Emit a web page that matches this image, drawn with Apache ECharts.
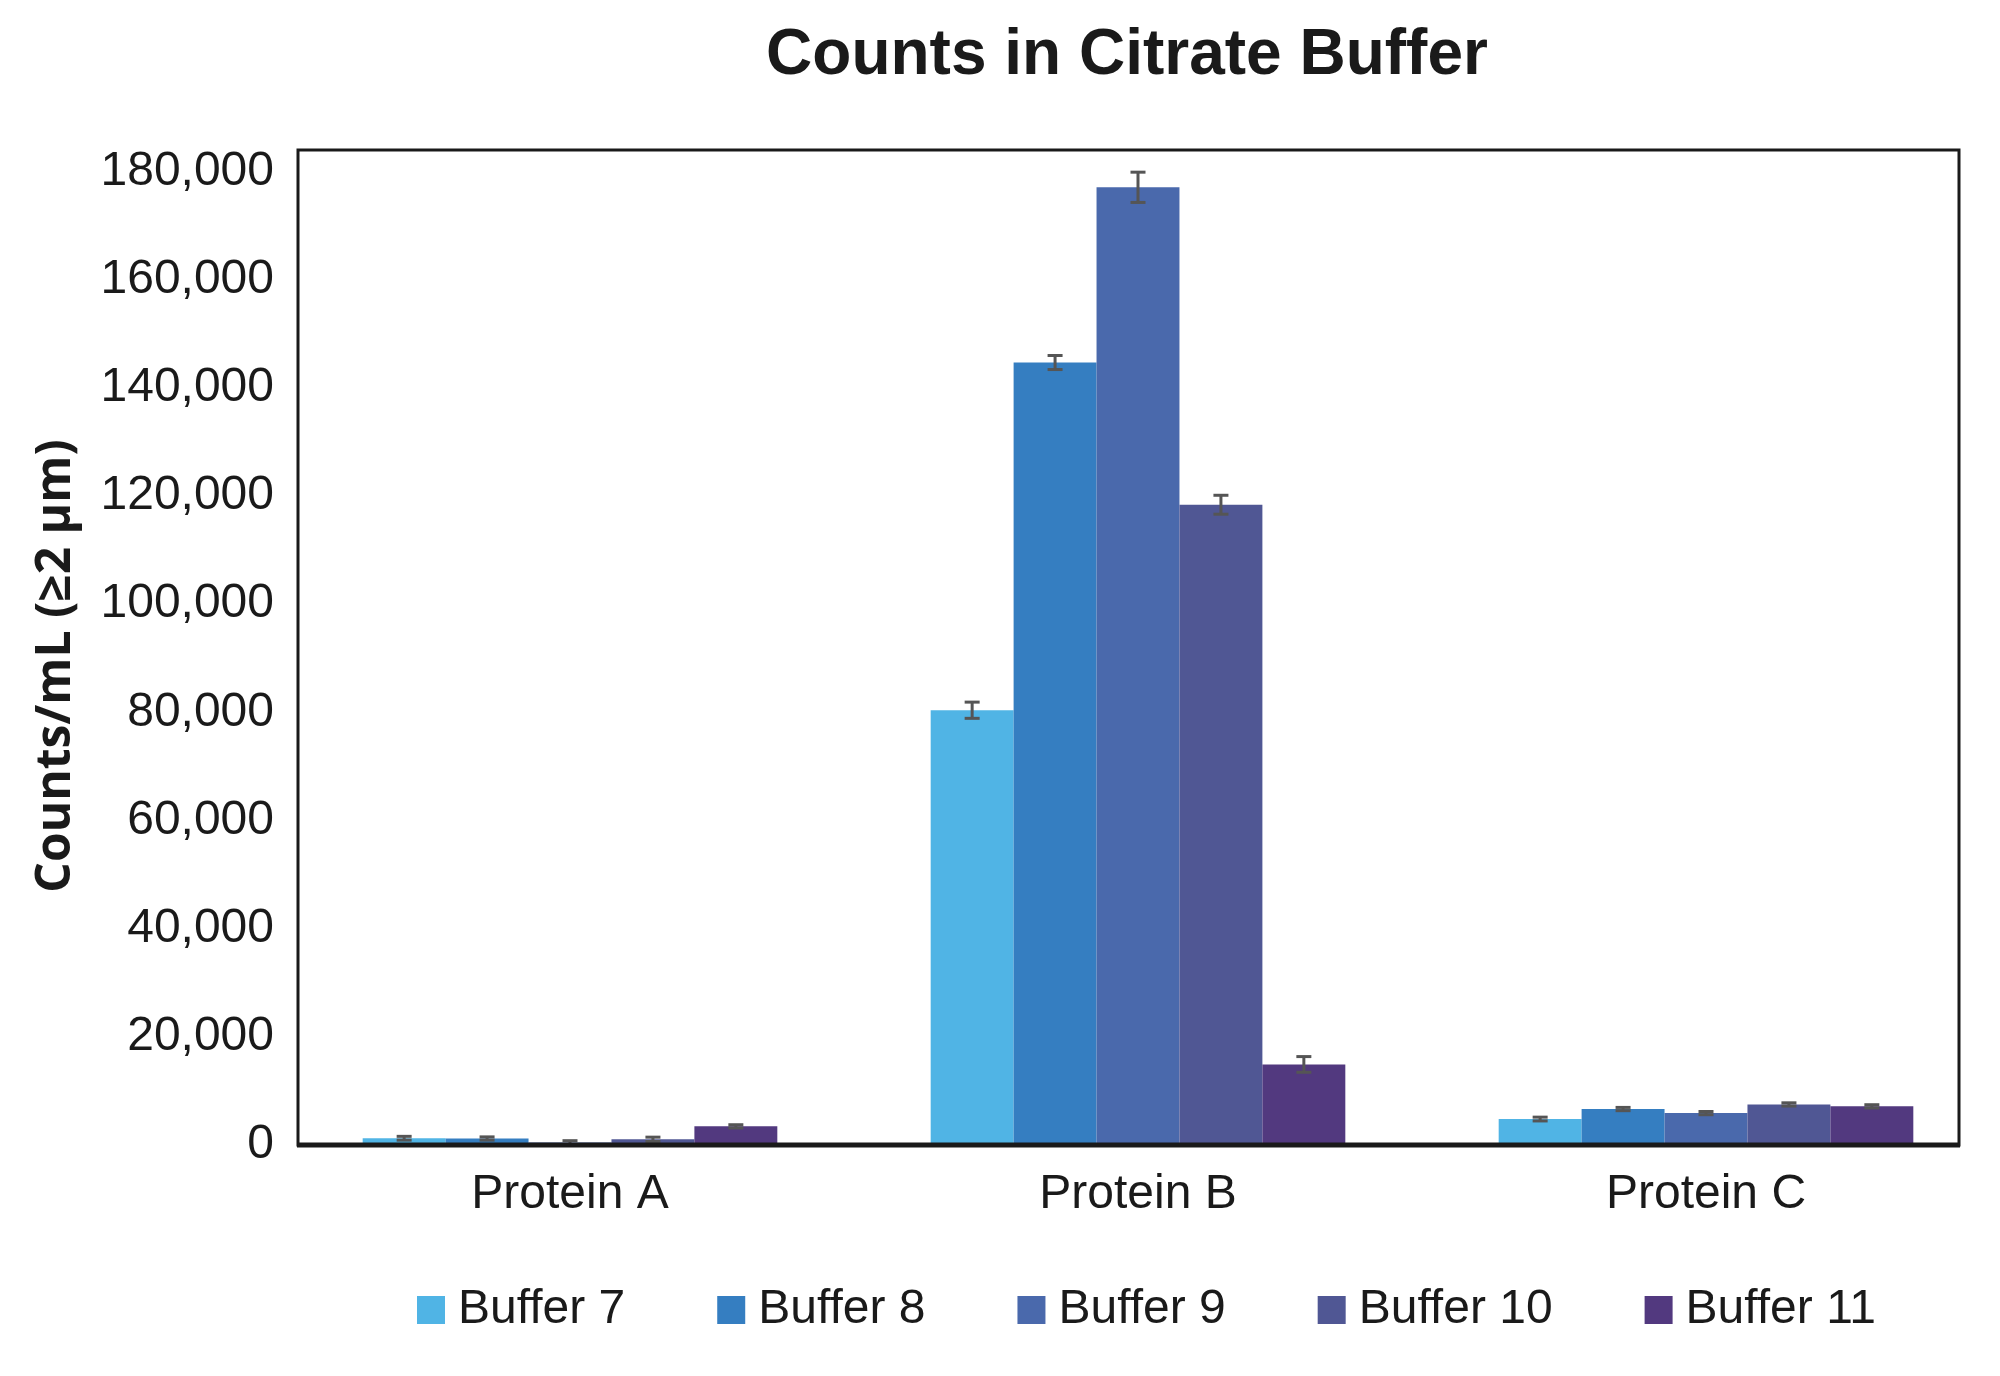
<!DOCTYPE html>
<html>
<head>
<meta charset="utf-8">
<script src="https://cdn.jsdelivr.net/npm/echarts@6/dist/echarts.min.js"></script>
<style>html,body{margin:0;padding:0;background:#fff;}#c{width:2000px;height:1376px;}</style>
</head>
<body>
<div id="c"></div>
<script>
const categories = ['Protein A', 'Protein B', 'Protein C'];
const seriesNames = ['Buffer 7', 'Buffer 8', 'Buffer 9', 'Buffer 10', 'Buffer 11'];
const buffer7 = [1250, 80400, 4800];
const buffer8 = [1200, 144700, 6650];
const buffer9 = [450, 177100, 5900];
const buffer10 = [1050, 118400, 7500];
const buffer11 = [3450, 14900, 7150];
const err7 = [350, 1500, 350];
const err8 = [300, 1300, 300];
const err9 = [350, 2800, 300];
const err10 = [400, 1750, 300];
const err11 = [300, 1450, 300];
const yTicks = [0, 20000, 40000, 60000, 80000, 100000, 120000, 140000, 160000, 180000];
const colors = ['#50B4E5', '#357EC1', '#4A69AC', '#505794', '#52397F'];

const values = [buffer7, buffer8, buffer9, buffer10, buffer11];
const errs = [err7, err8, err9, err10, err11];

const chart = echarts.init(document.getElementById('c'), null, {renderer: 'canvas'});
const font = 'Liberation Sans, Arial, sans-serif';
const gap = 0.27;

// plot frame (layout only)
const frameL = 298, frameR = 1959, frameT = 150, frameB = 1145;

const barSeries = seriesNames.map((n, i) => ({
  name: n,
  type: 'bar',
  data: values[i],
  barGap: '0%',
  barCategoryGap: (gap * 100) + '%',
  itemStyle: {color: colors[i]},
  z: 2
}));

const errData = [];
values.forEach((arr, si) => arr.forEach((v, ci) => errData.push([ci, v, errs[si][ci], si])));

const errSeries = {
  type: 'custom',
  data: errData,
  z: 10,
  silent: true,
  encode: {x: 0, y: 1},
  renderItem: function (params, api) {
    const ci = api.value(0), v = api.value(1), e = api.value(2), si = api.value(3);
    const catW = api.size([1, 0])[0];
    const bw = catW * (1 - gap) / seriesNames.length;
    const center = api.coord([ci, v]);
    const x = center[0] + (si - (seriesNames.length - 1) / 2) * bw;
    const yHi = api.coord([ci, v + e])[1];
    const yLo = api.coord([ci, v - e])[1];
    const cap = 7.5;
    const st = {stroke: '#555555', lineWidth: 3};
    return {
      type: 'group',
      children: [
        {type: 'line', shape: {x1: x, y1: yHi, x2: x, y2: yLo}, style: st},
        {type: 'line', shape: {x1: x - cap, y1: yHi, x2: x + cap, y2: yHi}, style: st},
        {type: 'line', shape: {x1: x - cap, y1: yLo, x2: x + cap, y2: yLo}, style: st}
      ]
    };
  }
};

chart.setOption({
  animation: false,
  backgroundColor: '#ffffff',
  title: {
    text: 'Counts in Citrate Buffer',
    left: 1122,
    textAlign: 'center',
    top: 19,
    textStyle: {fontFamily: font, fontWeight: 'bold', fontSize: 64, color: '#1a1a1a'}
  },
  legend: {
    data: seriesNames,
    left: 412,
    top: 1281,
    icon: 'rect',
    itemWidth: 28,
    itemHeight: 28,
    itemGap: 92,
    textStyle: {fontFamily: font, fontSize: 48, color: '#1a1a1a', padding: [0, 0, 0, 8]}
  },
  grid: {
    left: 286, right: 10, top: frameT, bottom: 1376 - frameB,
    show: false,
    containLabel: false
  },
  xAxis: {
    type: 'category',
    data: categories,
    axisTick: {show: false},
    axisLine: {show: false},
    axisLabel: {fontFamily: font, fontSize: 48, color: '#1a1a1a', margin: 26}
  },
  yAxis: {
    type: 'value',
    min: 0,
    max: 184000,
    interval: 20000,
    offset: -12,
    splitLine: {show: false},
    axisTick: {show: false},
    axisLine: {show: false},
    axisLabel: {
      fontFamily: font, fontSize: 48, color: '#1a1a1a', margin: 24,
      showMaxLabel: false,
      formatter: function (v) { return yTicks.indexOf(v) >= 0 ? v.toLocaleString('en-US') : ''; }
    }
  },
  graphic: [{
    type: 'rect',
    z: 100,
    shape: {x: frameL, y: frameT, width: frameR - frameL, height: frameB - frameT},
    style: {fill: null, stroke: '#1a1a1a', lineWidth: 3}
  }, {
    type: 'line',
    z: 101,
    shape: {x1: frameL - 1, y1: frameB, x2: frameR + 1, y2: frameB},
    style: {stroke: '#1a1a1a', lineWidth: 5}
  }, {
    type: 'text',
    x: 56, y: 666,
    rotation: Math.PI / 2,
    style: {
      text: 'Counts/mL (≥2 µm)',
      fontFamily: 'Open Sans, sans-serif', fontWeight: 'bold', fontSize: 48,
      fill: '#1a1a1a', align: 'center', verticalAlign: 'middle'
    }
  }],
  series: barSeries.concat([errSeries])
});
</script>
</body>
</html>
